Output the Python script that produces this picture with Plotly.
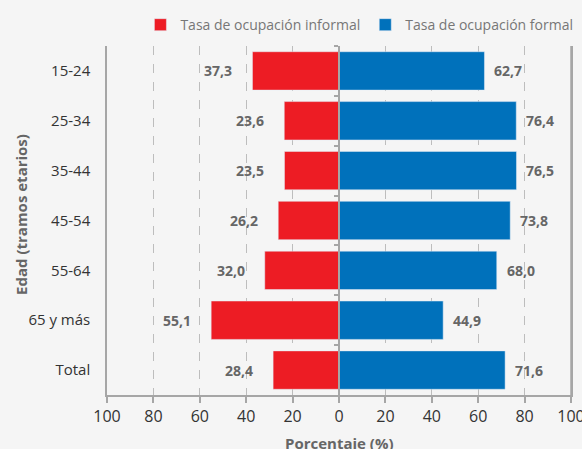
import plotly.graph_objects as go

categories = ["15-24", "25-34", "35-44", "45-54", "55-64", "65 y más", "Total"]
informal = [37.3, 23.6, 23.5, 26.2, 32.0, 55.1, 28.4]
formal = [62.7, 76.4, 76.5, 73.8, 68.0, 44.9, 71.6]
tick_values = [-100, -80, -60, -40, -20, 0, 20, 40, 60, 80, 100]
tick_labels = ["100", "80", "60", "40", "20", "0", "20", "40", "60", "80", "100"]

RED = "#ED1C24"
BLUE = "#0071BB"
AXIS = "#A6A6A6"
FONT = "Open Sans"


def fmt(v):
    return f"{v:.1f}".replace(".", ",")


fig = go.Figure()
fig.add_trace(go.Bar(
    y=categories, x=[-v for v in informal], orientation="h",
    name="Tasa de ocupación informal", marker=dict(color=RED),
    width=0.77, hoverinfo="skip",
))
fig.add_trace(go.Bar(
    y=categories, x=formal, orientation="h",
    name="Tasa de ocupación formal", marker=dict(color=BLUE),
    width=0.77, hoverinfo="skip",
))
# invisible helper trace carrying the zero-line axis with category-boundary ticks
fig.add_trace(go.Scatter(
    y=categories, x=[0] * len(categories), yaxis="y2", mode="markers",
    marker=dict(opacity=0), showlegend=False, hoverinfo="skip",
))

label_font = dict(family=FONT, size=14, color="#666666", weight="bold")
annotations = []
for c, v in zip(categories, informal):
    annotations.append(dict(
        x=-v, y=c, text=fmt(v), xanchor="right", yanchor="middle",
        xshift=-18, showarrow=False, font=label_font,
    ))
for c, v in zip(categories, formal):
    annotations.append(dict(
        x=v, y=c, text=fmt(v), xanchor="left", yanchor="middle",
        xshift=8, showarrow=False, font=label_font,
    ))
# axis titles
title_font = dict(family=FONT, size=15, color="#666666", weight="bold")
annotations.append(dict(
    text="Edad (tramos etarios)", xref="paper", yref="paper", x=0, y=0.516,
    xshift=-86, xanchor="center", yanchor="middle", textangle=-90,
    showarrow=False, font=title_font,
))
annotations.append(dict(
    text="Porcentaje (%)", xref="paper", yref="paper", x=0.5, y=0,
    yshift=-36, xanchor="center", yanchor="top",
    showarrow=False, font=title_font,
))

fig.update_layout(
    width=582, height=449,
    margin=dict(l=107, r=11, t=46, b=54, autoexpand=False),
    paper_bgcolor="#F5F5F5", plot_bgcolor="#F5F5F5",
    barmode="relative",
    font=dict(family=FONT, color="#333333"),
    annotations=annotations,
    # right frame line of the plot area (paper refs are not clipped)
    shapes=[dict(type="line", xref="paper", yref="paper",
                 x0=1, x1=1, y0=0, y1=1, layer="above",
                 line=dict(color=AXIS, width=1.5))],
    showlegend=True,
    legend=dict(
        orientation="h", x=0.072, xanchor="left", y=1.06, yanchor="middle",
        font=dict(family=FONT, size=14, color="#777777"),
        itemwidth=30, tracegroupgap=0, bgcolor="rgba(0,0,0,0)",
    ),
    xaxis=dict(
        range=[-100, 100], tickvals=tick_values, ticktext=tick_labels,
        showgrid=True, gridcolor="#BDBDBD", griddash="dash", gridwidth=1,
        zeroline=False, showline=True, linecolor=AXIS, linewidth=1.5,
        ticks="outside", ticklen=6, tickcolor=AXIS, tickwidth=1.5,
        tickfont=dict(family=FONT, size=16, color="#333333"),
        ticklabeloverflow="allow",
        automargin=False, fixedrange=True,
    ),
    yaxis=dict(
        type="category", categoryorder="array", categoryarray=categories,
        range=[6.5, -0.5], showgrid=False, zeroline=False,
        showline=True, mirror=True, linecolor=AXIS, linewidth=1.5,
        ticks="", ticklabelstandoff=12,
        tickfont=dict(family=FONT, size=15, color="#333333"),
        automargin=False, fixedrange=True,
    ),
    yaxis2=dict(
        type="category", categoryorder="array", categoryarray=categories,
        overlaying="y", anchor="free", position=0.5, side="left",
        range=[6.5, -0.5], showgrid=False, zeroline=False,
        showline=True, linecolor=AXIS, linewidth=1.5,
        ticks="outside", ticklen=4, tickwidth=1.5, tickcolor=AXIS, tickson="boundaries",
        showticklabels=False, fixedrange=True, automargin=False,
    ),
)

fig.write_html(
    "out.html",
    config={"displayModeBar": False},
    post_script=(
        "document.body.style.margin='0';"
        "document.body.style.overflow='hidden';"
        "document.documentElement.style.overflow='hidden';"
    ),
)
